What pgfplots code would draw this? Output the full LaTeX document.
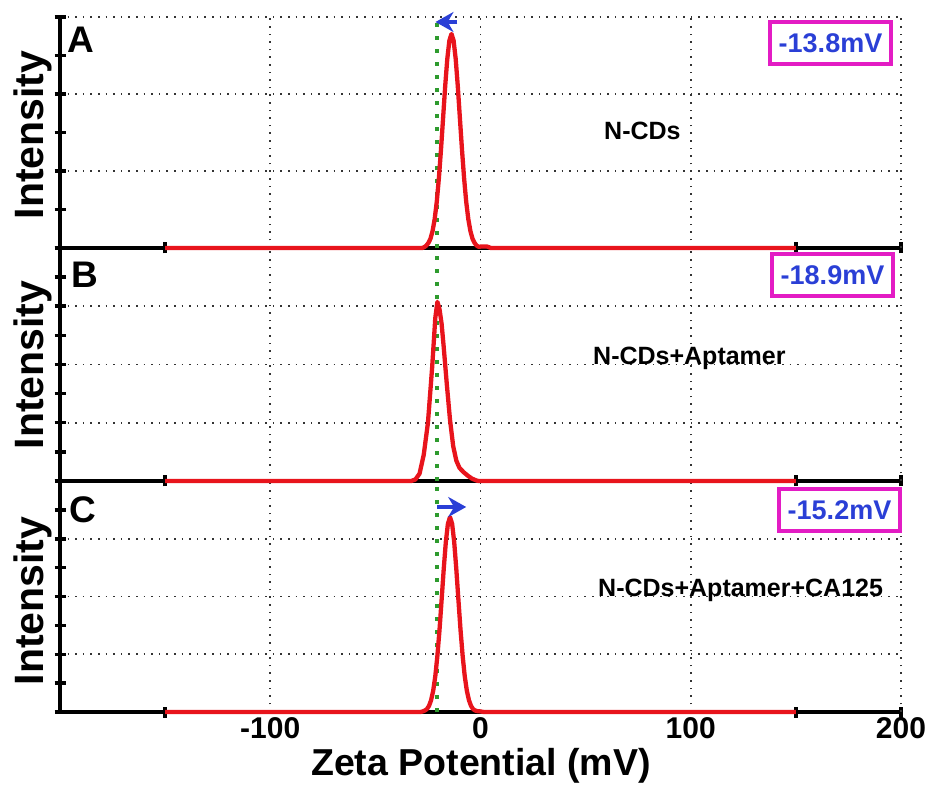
\documentclass[border=0pt]{standalone}
\usepackage{fontspec}
\setmainfont{Liberation Sans}
\usepackage{pgfplots}
\pgfplotsset{compat=1.18}
\usetikzlibrary{arrows.meta}
\definecolor{cred}{HTML}{E8141C}
\definecolor{cgreen}{HTML}{2E9B2E}
\definecolor{cblue}{HTML}{2A3FD6}
\definecolor{cmag}{HTML}{E31CC4}
\pgfplotsset{panel/.style={
  scale only axis, width=841pt, anchor=south west,
  xmin=-200, xmax=200,
  axis x line=bottom, axis y line=left,
  axis line style={-, line width=3.5pt, black},
  xtick={-150,150,200}, xticklabels={},
  extra x ticks={-100,0,100,200},
  extra x tick style={grid=major, major tick length=0pt},
  extra x tick labels={},
  yticklabels={},
  ymajorgrids,
  tick align=center, major tick length=11pt, minor tick length=11pt,
  tick style={line width=3.5pt, black},
  grid style={line width=1.6pt, dash pattern=on 1.6pt off 6pt, black!80},
  clip=false,
}}
\begin{document}
\begin{tikzpicture}
% ---------- C ----------
\begin{axis}[panel, at={(60pt,75pt)}, height=231pt, ymin=0, ymax=8,
  ytick={0,2,4,6,8}, minor ytick={1,3,5,7},
  extra x tick labels={-100,0,100,200},
  extra x tick style={grid=major, major tick length=0pt,
    tick label style={font=\fontsize{30}{36}\selectfont\bfseries, yshift=-2pt}}]
\addplot[cgreen, line width=4pt, dash pattern=on 4pt off 9pt] coordinates {(-20.5,0) (-20.5,8)};
\addplot[cred, line width=4.3pt, line join=round] coordinates {
(-150,0) (-28.5,0) (-27.5,0.02) (-26.5,0.05) (-25.5,0.10) (-24.5,0.21) (-23.5,0.41)
(-22.5,0.74) (-21.5,1.24) (-20.5,1.95) (-19.5,2.84) (-18.5,3.88) (-17.5,4.94)
(-16.5,5.88) (-15.5,6.52) (-14.5,6.75) (-13.5,6.52) (-12.5,5.88) (-11.5,4.94)
(-10.5,3.88) (-9.5,2.84) (-8.5,1.95) (-7.5,1.24) (-6.5,0.74) (-5.5,0.41)
(-4.5,0.21) (-3.5,0.10) (-2.5,0.05) (-1.5,0.03) (0,0.02) (1.5,0) (150,0)};
\draw[cblue, line width=3.5pt, -{Stealth[length=18pt,width=20pt]}] (axis cs:-20.5,7.1) -- (axis cs:-6.8,7.1);
\end{axis}
% ---------- B ----------
\begin{axis}[panel, at={(60pt,306pt)}, height=233pt, ymin=0, ymax=8,
  ytick={0,2,4,6,8}, minor ytick={1,3,5,7}]
\addplot[cgreen, line width=4pt, dash pattern=on 4pt off 9pt] coordinates {(-20.5,0) (-20.5,8)};
\addplot[cred, line width=4.3pt, line join=round] coordinates {
(-150,0) (-33,0) (-31,0.05) (-29,0.25) (-27,0.9) (-25,2.0) (-23,3.9) (-21.5,5.6)
(-20.5,6.15) (-19.5,5.9) (-18.5,5.4) (-17.5,4.6) (-16,3.3) (-14.5,2.1) (-13,1.2)
(-11.5,0.7) (-10,0.45) (-8,0.3) (-6,0.18) (-4,0.08) (-2,0.02) (-1,0) (150,0)};
\end{axis}
% ---------- A ----------
\begin{axis}[panel, at={(60pt,539pt)}, height=231pt, ymin=0, ymax=6,
  ytick={0,2,4,6}, minor ytick={1,3,5}]
\addplot[cgreen, line width=4pt, dash pattern=on 4pt off 9pt] coordinates {(-20.5,0) (-20.5,6)};
\addplot[cred, line width=4.3pt, line join=round] coordinates {
(-150,0) (-27.8,0) (-26.8,0.02) (-25.8,0.06) (-24.8,0.13) (-23.8,0.24) (-22.8,0.44)
(-21.8,0.75) (-20.8,1.20) (-19.8,1.81) (-18.8,2.55) (-17.8,3.37) (-16.8,4.20)
(-15.8,4.91) (-14.8,5.39) (-13.8,5.56) (-12.8,5.39) (-11.8,4.91) (-10.8,4.20)
(-9.8,3.37) (-8.8,2.55) (-7.8,1.81) (-6.8,1.20) (-5.8,0.75) (-4.8,0.44)
(-3.8,0.24) (-2.8,0.13) (-1.8,0.06) (-0.8,0.03) (0.5,0.04) (3,0.04) (5,0) (150,0)};
\draw[cblue, line width=3.5pt, -{Stealth[length=18pt,width=20pt]}] (axis cs:-11.0,5.87) -- (axis cs:-21.4,5.87);
\end{axis}
% ---------- texts ----------
\begin{scope}[every node/.style={inner sep=0pt}]
\node[anchor=base, rotate=90, font=\fontsize{41}{48}\selectfont\bfseries] at (43pt,652pt) {Intensity};
\node[anchor=base, rotate=90, font=\fontsize{41}{48}\selectfont\bfseries] at (43pt,422pt) {Intensity};
\node[anchor=base, rotate=90, font=\fontsize{41}{48}\selectfont\bfseries] at (43pt,186pt) {Intensity};
\node[anchor=base west, font=\fontsize{37}{44}\selectfont\bfseries] at (67pt,734pt) {A};
\node[anchor=base west, font=\fontsize{37}{44}\selectfont\bfseries] at (71pt,499pt) {B};
\node[anchor=base west, font=\fontsize{37}{44}\selectfont\bfseries] at (69pt,264pt) {C};
\node[anchor=base west, font=\fontsize{25}{30}\selectfont\bfseries] at (604pt,647pt) {N-CDs};
\node[anchor=base west, font=\fontsize{25}{30}\selectfont\bfseries] at (593pt,422pt) {N-CDs+Aptamer};
\node[anchor=base west, font=\fontsize{25}{30}\selectfont\bfseries] at (598pt,190pt) {N-CDs+Aptamer+CA125};
\node[anchor=base, font=\fontsize{37.5}{44}\selectfont\bfseries] at (481pt,12pt) {Zeta Potential (mV)};
\tikzset{vbox/.style={draw=cmag, line width=4pt, text=cblue, minimum width=121pt, minimum height=42pt, font=\fontsize{27}{32}\selectfont\bfseries}}
\node[vbox] at (830.5pt,744pt) {-13.8mV};
\node[vbox] at (832.5pt,512pt) {-18.9mV};
\node[vbox] at (839.5pt,276.5pt) {-15.2mV};
\end{scope}
\pgfresetboundingbox
\path[use as bounding box] (0,0) rectangle (931pt,787pt);
\end{tikzpicture}
\end{document}
